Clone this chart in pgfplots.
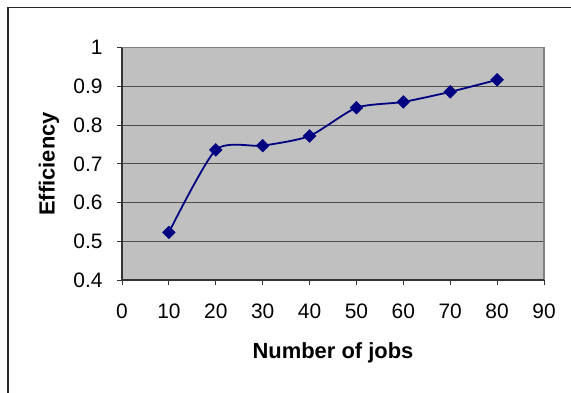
\documentclass[border=0pt]{standalone}
\usepackage{pgfplots}
\pgfplotsset{compat=1.18}
\usepackage{fontspec}
\setmainfont{Liberation Sans}
\definecolor{plotgray}{HTML}{C0C0C0}
\definecolor{gridc}{HTML}{4D4D4D}
\definecolor{navyc}{HTML}{000080}
\begin{document}
\begin{tikzpicture}[x=1bp,y=1bp]
\useasboundingbox (0,0) rectangle (571,392);
\draw[line width=1.5bp, color=black!85] (8,-5) -- (8,384.3) -- (580,384.3);
\begin{axis}[
  at={(122bp,112bp)}, anchor=south west,
  scale only axis, width=422bp, height=232.3bp,
  xmin=0, xmax=90, ymin=0.4, ymax=1,
  xtick={0,10,...,90}, ytick={0.4,0.5,...,1.0},
  yticklabels={0.4,0.5,0.6,0.7,0.8,0.9,1},
  xtick pos=bottom, ytick pos=left,
  /pgf/number format/assume math mode=true,
  axis background/.style={fill=plotgray},
  ymajorgrids, grid style={gridc, line width=1bp},
  axis line style={draw=none},
  tick align=outside, major tick length=5bp,
  tick style={black!80, line width=1bp},
  x tick label style={font=\fontsize{21}{21}\selectfont, yshift=-15bp},
  y tick label style={font=\fontsize{21}{21}\selectfont, xshift=-11bp},
  xlabel={\textbf{Number of jobs}}, ylabel={\textbf{Efficiency}},
  xlabel style={font=\fontsize{22}{22}\selectfont, at={(axis description cs:0.5,0)}, anchor=center, yshift=-73bp},
  ylabel style={font=\fontsize{22}{22}\selectfont, at={(axis description cs:0,0.5)}, anchor=center, yshift=73bp},
  clip=false,
]
\draw[color=gray!100, line width=1.2bp] (axis cs:0,1) -- (axis cs:90,1) -- (axis cs:90,0.4);
\draw[color=black!80, line width=1.2bp] (axis cs:0,1) -- (axis cs:0,0.4) -- (axis cs:90,0.4);
\addplot[navyc, line width=1.8bp, smooth, tension=0.4, mark=square*, mark size=4.5bp,
  mark options={rotate=45, fill=navyc, draw=navyc, line width=0.5bp}]
  coordinates {(10,0.523) (20,0.736) (30,0.747) (40,0.772) (50,0.845) (60,0.860) (70,0.886) (80,0.917)};
\end{axis}
\end{tikzpicture}
\end{document}
